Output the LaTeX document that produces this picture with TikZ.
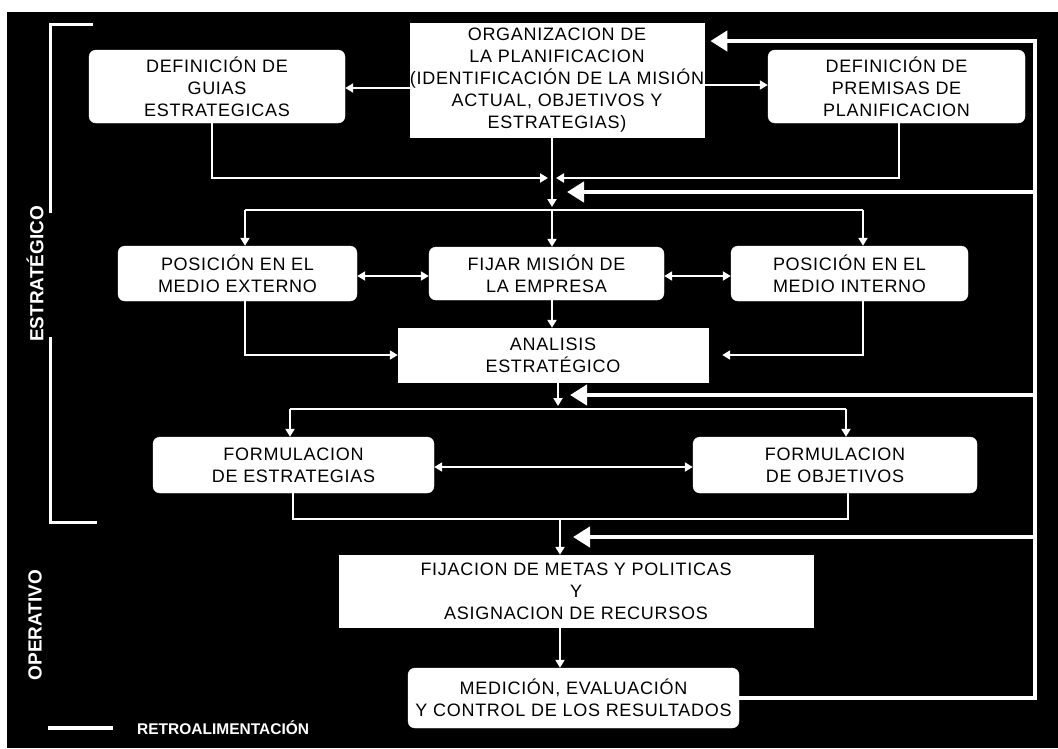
\documentclass[tikz,border=0pt]{standalone}
\usepackage{fontspec}
\setmainfont{Liberation Sans}
\newfontfamily\boxfont[LetterSpace=4]{Liberation Sans}
\usetikzlibrary{arrows.meta}
\begin{document}
\begin{tikzpicture}[x=1pt,y=-1pt,
  box/.style={fill=white, draw=white, inner sep=0pt, align=center, text=black,
    font=\boxfont\fontsize{18}{22}\selectfont},
  rbox/.style={box, rounded corners=7pt},
  plain/.style={draw=white, line width=2.5pt},
  conn/.style={plain, -{Triangle[length=8pt,width=9pt]}},
  dconn/.style={plain, {Triangle[length=8pt,width=9pt]}-{Triangle[length=8pt,width=9pt]}},
  fbline/.style={draw=white, line width=4.5pt},
  fb/.style={fbline, -{Triangle[length=17pt,width=20pt]}},
  bracket/.style={draw=white, line width=3pt},
  side/.style={text=white, font=\bfseries\fontsize{19}{19}\selectfont, inner sep=0pt},
  legend/.style={text=white, font=\bfseries\fontsize{15.5}{16}\selectfont, inner sep=0pt}
]
\useasboundingbox (0,0) rectangle (1058,748);
\fill[white] (0,0) rectangle (1058,748);
\fill[black] (7,12) rectangle (1058,748);

% boxes
\node[rbox, minimum width=256pt, minimum height=73pt] (guias) at (217,86.5) {DEFINICIÓN DE\\GUIAS\\ESTRATEGICAS};
\node[box, minimum width=284pt, minimum height=114pt] (org) at (557,80) {ORGANIZACION DE\\LA PLANIFICACION\\(IDENTIFICACIÓN DE LA MISIÓN\\ACTUAL, OBJETIVOS Y\\ESTRATEGIAS)};
\node[rbox, minimum width=257pt, minimum height=73pt] (premisas) at (896.5,86.5) {DEFINICIÓN DE\\PREMISAS DE\\PLANIFICACION};
\node[rbox, minimum width=239pt, minimum height=55pt] (ext) at (237.5,273.5) {POSICIÓN EN EL\\MEDIO EXTERNO};
\node[rbox, minimum width=235pt, minimum height=53pt] (fijar) at (546.5,273.5) {FIJAR MISIÓN DE\\LA EMPRESA};
\node[rbox, minimum width=237pt, minimum height=55pt] (int) at (849.5,273.5) {POSICIÓN EN EL\\MEDIO INTERNO};
\node[box, minimum width=310pt, minimum height=54pt] (analisis) at (553,355) {ANALISIS\\ESTRATÉGICO};
\node[rbox, minimum width=281pt, minimum height=56pt] (formest) at (293.5,465) {FORMULACION\\DE ESTRATEGIAS};
\node[rbox, minimum width=284pt, minimum height=56pt] (formobj) at (835,465) {FORMULACION\\DE OBJETIVOS};
\node[box, minimum width=474pt, minimum height=72pt] (fijacion) at (576,591) {FIJACION DE METAS Y POLITICAS\\Y\\ASIGNACION DE RECURSOS};
\node[rbox, minimum width=331pt, minimum height=60pt] (medicion) at (573.5,698) {MEDICIÓN, EVALUACIÓN\\Y CONTROL DE LOS RESULTADOS};

% helper coordinates
\coordinate (ya) at (0,88);
\coordinate (yb) at (0,85);
\coordinate (gx) at (212,0);
\coordinate (px) at (899,0);
\coordinate (jl) at (548,178);
\coordinate (jr) at (556,178);
\coordinate (sx) at (552,0);
\coordinate (s1) at (552,207);
\coordinate (h1) at (0,210);
\coordinate (ex) at (245,0);
\coordinate (ix) at (863,0);
\coordinate (y276) at (0,276);
\coordinate (y355) at (0,355);
\coordinate (ax) at (558,0);
\coordinate (a1) at (558,406);
\coordinate (h2) at (0,409);
\coordinate (fx1) at (290,0);
\coordinate (fx2) at (846,0);
\coordinate (y467) at (0,467);
\coordinate (h3) at (0,519);
\coordinate (bx1) at (293,0);
\coordinate (bx2) at (848,0);
\coordinate (mx) at (560,0);

% connectors
\draw[conn] (org.west |- ya) -- (guias.east |- ya);
\draw[conn] (org.east |- yb) -- (premisas.west |- yb);
\draw[conn] (guias.south -| gx) |- (jl);
\draw[conn] (premisas.south -| px) |- (jr);
\draw[conn] (org.south -| sx) -- (s1);
\draw[plain] (ex |- h1) -- (ix |- h1);
\draw[conn] (ex |- h1) -- (ext.north -| ex);
\draw[conn] (ix |- h1) -- (int.north -| ix);
\draw[conn] (sx |- h1) -- (fijar.north -| sx);
\draw[dconn] (ext.east |- y276) -- (fijar.west |- y276);
\draw[dconn] (int.west |- y276) -- (fijar.east |- y276);
\draw[conn] (fijar.south -| sx) -- (analisis.north -| sx);
\draw[conn] (ext.south -| ex) |- (analisis.west |- y355);
\draw[conn, shorten >=14pt] (int.south -| ix) |- (analisis.east |- y355);
\draw[conn] (analisis.south -| ax) -- (a1);
\draw[plain] (fx1 |- h2) -- (fx2 |- h2);
\draw[conn] (fx1 |- h2) -- (formest.north -| fx1);
\draw[conn] (fx2 |- h2) -- (formobj.north -| fx2);
\draw[dconn] (formest.east |- y467) -- (formobj.west |- y467);
\draw[plain] (formest.south -| bx1) |- (bx2 |- h3) -- (formobj.south -| bx2);
\draw[conn] (mx |- h3) -- (fijacion.north -| mx);
\draw[conn] (fijacion.south -| mx) -- (medicion.north -| mx);

% feedback
\coordinate (rt) at (1035,41);
\coordinate (t0) at (0,41);
\coordinate (f1) at (1035,192);
\coordinate (f1e) at (567,192);
\coordinate (f2) at (1035,395);
\coordinate (f2e) at (570,395);
\coordinate (f3) at (1035,537);
\coordinate (f3e) at (573,537);
\draw[fb, shorten >=6pt] (medicion.east) -| (rt) -- (org.east |- t0);
\draw[fb] (f1) -- (f1e);
\draw[fb] (f2) -- (f2e);
\draw[fb] (f3) -- (f3e);

% bracket and side labels
\draw[bracket] (93,24) -| (50,213);
\draw[bracket] (50,337) |- (97,522);
\node[side, rotate=90] (estr) at (35,274) {ESTRATÉGICO};
\node[side, rotate=90] (oper) at (35,625) {OPERATIVO};

% legend
\coordinate (l1) at (48,728);
\coordinate (l2) at (113,728);
\draw[fbline] (l1) -- (l2);
\node[legend, anchor=west] (leg) at (137,728) {RETROALIMENTACIÓN};
\end{tikzpicture}
\end{document}
